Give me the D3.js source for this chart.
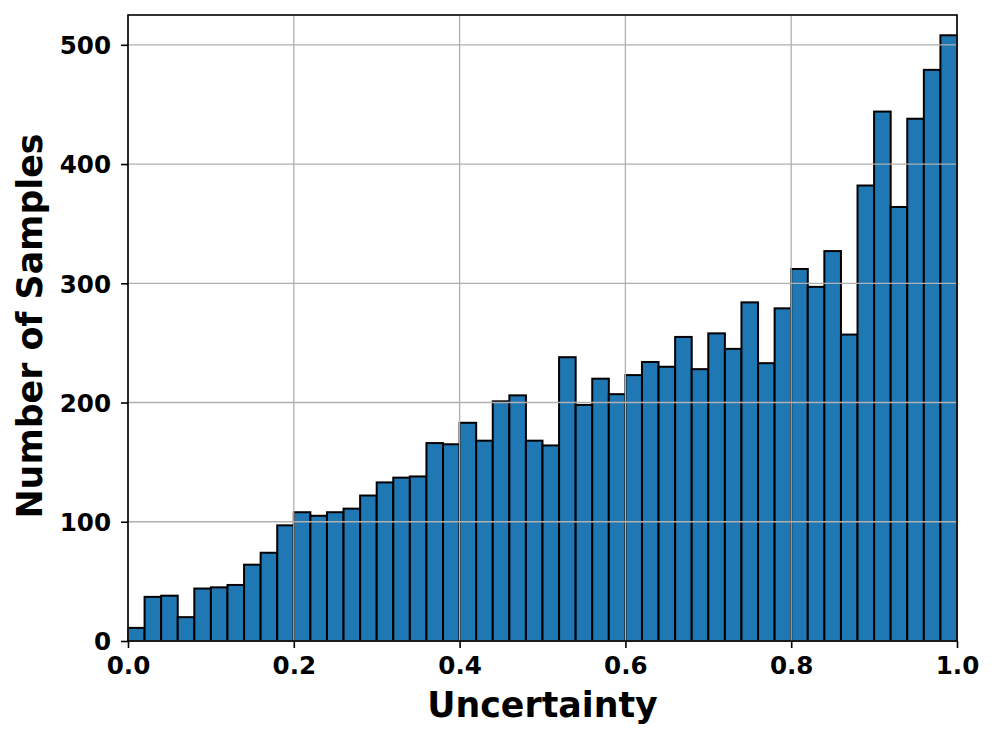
<!DOCTYPE html>
<html>
<head>
  <title>Uncertainty histogram</title>
  <script src="https://cdnjs.cloudflare.com/ajax/libs/d3/7.8.5/d3.min.js"></script>
  <style>
    body { margin: 0; background: #fff; }
    text { font-family: "DejaVu Sans", sans-serif; font-weight: bold; fill: #000; }
    .grid line { stroke: #b0b0b0; stroke-width: 1.3px; }
    .bar { fill: #1f77b4; stroke: #000; stroke-width: 2px; }
  </style>
</head>
<body>
  <svg width="996" height="741"></svg>
</body>
</html>

<script>
// histogram: 50 equal bins between 0 and 1
var binEdges = d3.range(51).map(function(i) { return i / 50; });
var counts = [
  11, 37, 38, 20, 44, 45, 47, 64, 74, 97,
  108, 105, 108, 111, 122, 133, 137, 138, 166, 165,
  183, 168, 201, 206, 168, 164, 238, 198, 220, 207,
  223, 234, 230, 255, 228, 258, 245, 284, 233, 279,
  312, 297, 327, 257, 382, 444, 364, 438, 479, 508
];
var xTicks = [0, 0.2, 0.4, 0.6, 0.8, 1.0];
var yTicks = [0, 100, 200, 300, 400, 500];

var svg = d3.select("svg"),
    margin = {top: 15, right: 39, bottom: 100, left: 128},
    width = +svg.attr("width") - margin.left - margin.right,
    height = +svg.attr("height") - margin.top - margin.bottom,
    g = svg.append("g").attr("transform", "translate(" + margin.left + "," + margin.top + ")");

var x = d3.scaleLinear().domain([0, 1]).range([0, width]);
var y = d3.scaleLinear().domain([0, 525]).range([height, 0]);

var bins = counts.map(function(c, i) { return {x0: binEdges[i], x1: binEdges[i + 1], n: c}; });

g.selectAll(".bar")
    .data(bins)
  .enter().append("rect")
    .attr("class", "bar")
    .attr("x", function(d) { return x(d.x0); })
    .attr("width", function(d) { return x(d.x1) - x(d.x0); })
    .attr("y", function(d) { return y(d.n); })
    .attr("height", function(d) { return y(0) - y(d.n); });

// grid sits above the bars, like matplotlib's default
g.append("g")
    .attr("class", "grid")
    .selectAll("line.h")
    .data(yTicks)
  .enter().append("line")
    .attr("x1", 0).attr("x2", width)
    .attr("y1", function(d) { return y(d); })
    .attr("y2", function(d) { return y(d); });

g.select(".grid")
    .selectAll("line.v")
    .data(xTicks)
  .enter().append("line")
    .attr("class", "v")
    .attr("y1", 0).attr("y2", height)
    .attr("x1", function(d) { return x(d); })
    .attr("x2", function(d) { return x(d); });

// frame
g.append("rect")
    .attr("width", width)
    .attr("height", height)
    .attr("fill", "none")
    .attr("stroke", "#000")
    .attr("stroke-width", 1.6);

var xAxis = g.append("g")
    .attr("transform", "translate(0," + height + ")")
    .call(d3.axisBottom(x).tickValues(xTicks).tickFormat(d3.format(".1f")).tickSize(7).tickPadding(9));

var yAxis = g.append("g")
    .call(d3.axisLeft(y).tickValues(yTicks).tickSize(7).tickPadding(10));

[xAxis, yAxis].forEach(function(a) {
  a.select(".domain").remove();
  a.selectAll(".tick line").attr("stroke", "#000").attr("stroke-width", 1.6);
  a.selectAll(".tick text").style("font-size", "24.6px").attr("fill", "#000");
});
yAxis.selectAll(".tick text").attr("dy", "0.36em");

svg.append("text")
    .attr("x", margin.left + width / 2)
    .attr("y", 717)
    .attr("text-anchor", "middle")
    .style("font-size", "34.8px")
    .text("Uncertainty");

svg.append("text")
    .attr("transform", "translate(42," + (margin.top + height / 2 - 2) + ") rotate(-90)")
    .attr("text-anchor", "middle")
    .style("font-size", "34.8px")
    .text("Number of Samples");
</script>
